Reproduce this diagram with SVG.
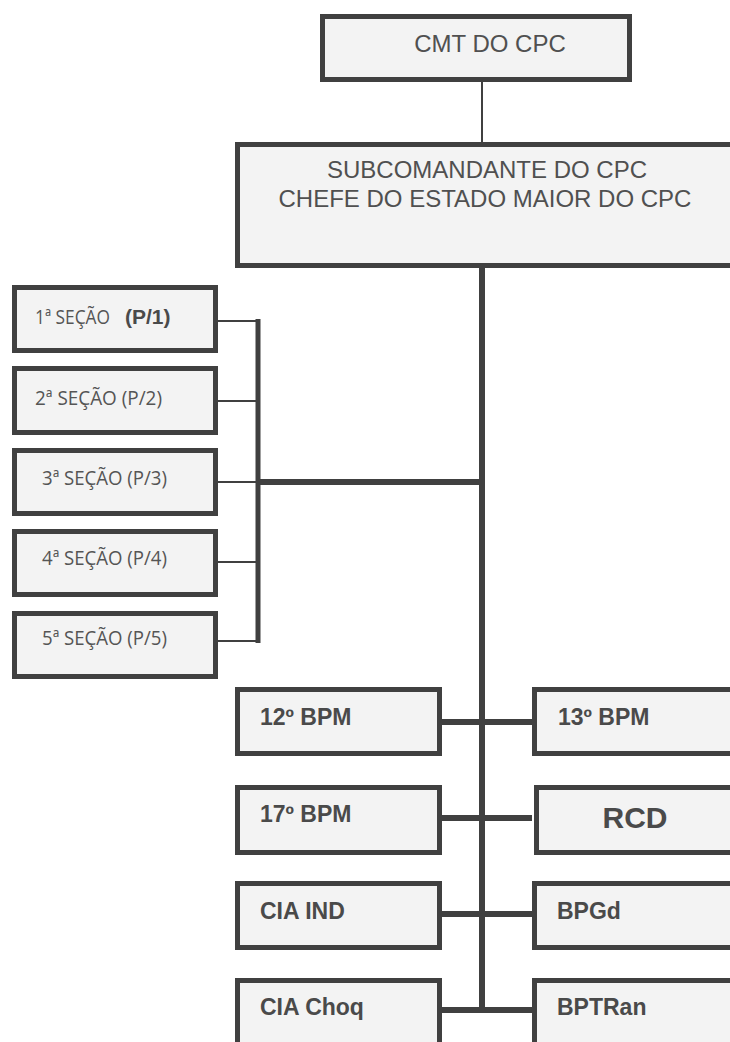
<svg xmlns="http://www.w3.org/2000/svg" width="730" height="1042" viewBox="0 0 730 1042">
<style>
.box{fill:#f3f3f3;stroke:#404040;stroke-width:5}
.t{font-family:"Liberation Sans",Arial,sans-serif;fill:#505050;font-size:24px}
.b{font-family:"Liberation Sans",Arial,sans-serif;font-weight:bold;fill:#4a4a4a;font-size:23px}
.s{font-family:"Open Sans","DejaVu Sans",sans-serif;fill:#555;font-size:20px}
.thin{stroke:#404040;stroke-width:2;fill:none}
.thick{stroke:#404040;stroke-width:6;fill:none}
</style>
<rect width="730" height="1042" fill="#ffffff"/>
<g id="connectors">
<line class="thin" x1="482" y1="82" x2="482" y2="144"/>
<line class="thick" x1="482" y1="268" x2="482" y2="1013"/>
<line class="thin" x1="218" y1="321" x2="258" y2="321"/>
<line class="thin" x1="218" y1="401" x2="258" y2="401"/>
<line class="thin" x1="218" y1="482" x2="258" y2="482"/>
<line class="thin" x1="218" y1="562" x2="258" y2="562"/>
<line class="thin" x1="218" y1="641" x2="258" y2="641"/>
<line class="thick" x1="258" y1="319" x2="258" y2="643" style="stroke-width:5"/>
<line class="thick" x1="258" y1="482" x2="482" y2="482"/>
<line class="thick" x1="442" y1="722" x2="532" y2="722"/>
<line class="thick" x1="442" y1="818" x2="532" y2="818"/>
<line class="thick" x1="442" y1="914" x2="532" y2="914"/>
<line class="thick" x1="442" y1="1010" x2="532" y2="1010"/>
</g>
<g id="cmt">
<rect class="box" x="322.5" y="16.5" width="307" height="63"/>
<text class="t" x="490" y="52" text-anchor="middle">CMT DO CPC</text>
</g>
<g id="subcmt">
<rect class="box" x="237.5" y="144.5" width="500" height="121"/>
<text class="t" x="487" y="178" text-anchor="middle">SUBCOMANDANTE DO CPC</text>
<text class="t" x="485" y="207" text-anchor="middle">CHEFE DO ESTADO MAIOR DO CPC</text>
</g>
<g id="sec1">
<rect class="box" x="14.5" y="287.5" width="201" height="63"/>
<text class="s" x="35" y="324" textLength="75" lengthAdjust="spacingAndGlyphs">1ª SEÇÃO</text>
<text x="125" y="324" font-family="Liberation Sans,Arial,sans-serif" font-weight="bold" font-size="21" fill="#4a4a4a">(P/1)</text>
</g>
<g id="sec2">
<rect class="box" x="14.5" y="368.5" width="201" height="64"/>
<text class="s" x="35" y="405" textLength="127" lengthAdjust="spacingAndGlyphs">2ª SEÇÃO (P/2)</text>
</g>
<g id="sec3">
<rect class="box" x="14.5" y="450.5" width="201" height="63"/>
<text class="s" x="42" y="485" textLength="125" lengthAdjust="spacingAndGlyphs">3ª SEÇÃO (P/3)</text>
</g>
<g id="sec4">
<rect class="box" x="14.5" y="531.5" width="201" height="63"/>
<text class="s" x="42" y="565" textLength="125" lengthAdjust="spacingAndGlyphs">4ª SEÇÃO (P/4)</text>
</g>
<g id="sec5">
<rect class="box" x="14.5" y="613.5" width="201" height="63"/>
<text class="s" x="42" y="645" textLength="125" lengthAdjust="spacingAndGlyphs">5ª SEÇÃO (P/5)</text>
</g>
<g id="bpm12">
<rect class="box" x="237.5" y="689.5" width="202" height="64"/>
<text class="b" x="260" y="725">12º BPM</text>
</g>
<g id="bpm13">
<rect class="box" x="534.5" y="689.5" width="210" height="64"/>
<text class="b" x="558" y="725">13º BPM</text>
</g>
<g id="bpm17">
<rect class="box" x="237.5" y="787.5" width="202" height="65"/>
<text class="b" x="260" y="822">17º BPM</text>
</g>
<g id="rcd">
<rect class="box" x="536.5" y="787.5" width="210" height="65"/>
<text class="b" x="635" y="828" text-anchor="middle" style="font-size:30px">RCD</text>
</g>
<g id="ciaind">
<rect class="box" x="237.5" y="883.5" width="202" height="64"/>
<text class="b" x="260" y="919">CIA IND</text>
</g>
<g id="bpgd">
<rect class="box" x="534.5" y="883.5" width="210" height="64"/>
<text class="b" x="557" y="919">BPGd</text>
</g>
<g id="ciachoq">
<rect class="box" x="237.5" y="980.5" width="202" height="70"/>
<text class="b" x="260" y="1015">CIA Choq</text>
</g>
<g id="bptran">
<rect class="box" x="534.5" y="980.5" width="210" height="70"/>
<text class="b" x="557" y="1015">BPTRan</text>
</g>
</svg>
